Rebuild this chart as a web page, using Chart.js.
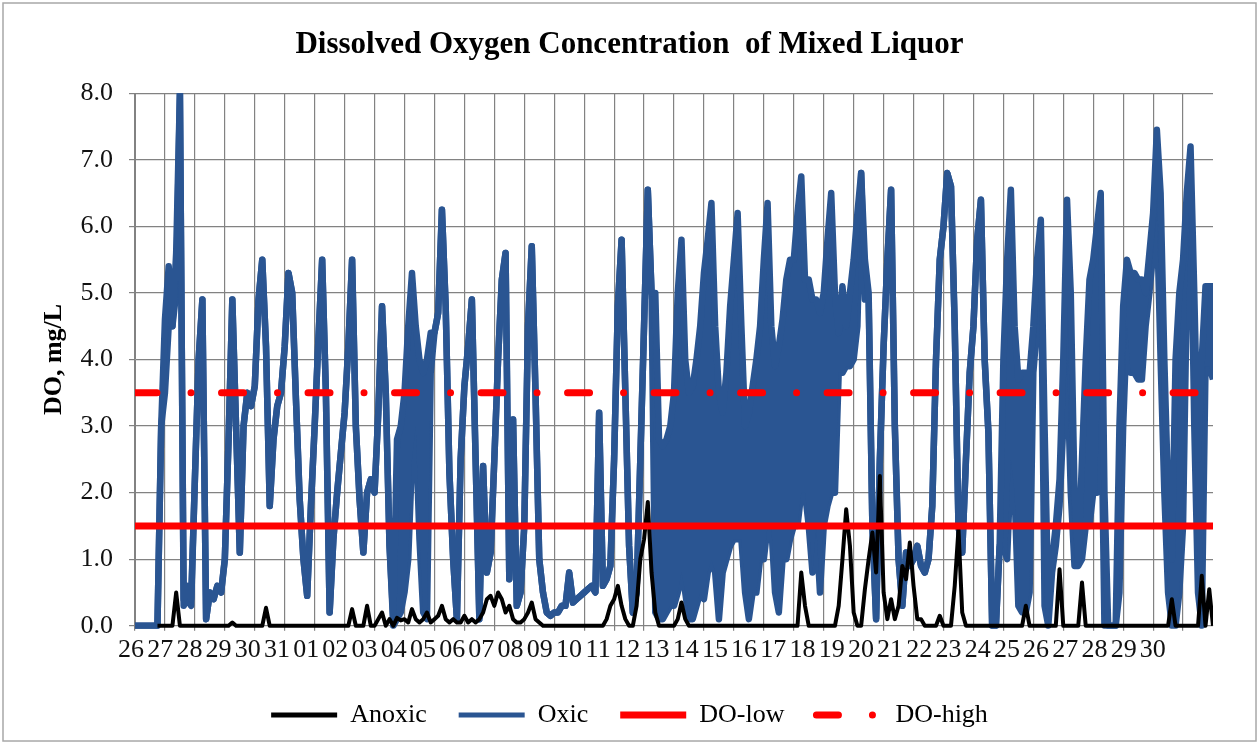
<!DOCTYPE html>
<html>
<head>
<meta charset="utf-8">
<title>Dissolved Oxygen Concentration of Mixed Liquor</title>
<script src="https://cdn.jsdelivr.net/npm/chart.js@4.4.1/dist/chart.umd.min.js"></script>
<style>
  body { margin: 0; background: #fff; }
</style>
</head>
<body>
<canvas id="grafica" width="1259" height="744"></canvas>
<script>
// etiquetas del eje x (un dia por division)
const etiquetasDias = ["26", "27", "28", "29", "30", "31", "01", "02", "03", "04", "05", "06",
  "07", "08", "09", "10", "11", "12", "13", "14", "15", "16", "17", "18",
  "19", "20", "21", "22", "23", "24", "25", "26", "27", "28", "29", "30"];

// un tramo cada 3 horas (8 por dia); para cada tramo el maximo y el minimo
// que se leen en la grafica (donde la linea es simple son iguales)
const pasoDias = 0.125;

const oxicoMax = [
  0, 0, 0, 0, 0, 0, 0, 3.0,               // 26
  4.6, 5.4, 4.5, 5.6, 8.0, 0.4, 0.6, 0.4, // 27
  2.2, 4.0, 4.9, 0.1, 0.5, 0.4, 0.6, 0.5, // 28
  1.0, 2.8, 4.9, 3.0, 1.1, 3.0, 3.5, 3.3, // 29
  3.6, 4.9, 5.5, 4.2, 1.8, 2.8, 3.3, 3.5, // 30
  4.2, 5.3, 5.0, 3.4, 1.9, 1.0, 0.45, 1.8, // 31
  3.0, 4.3, 5.5, 3.5, 0.2, 1.3, 2.0, 2.6, // 01
  3.2, 4.2, 5.5, 3.0, 1.9, 1.1, 2.0, 2.2, // 02
  2.0, 3.2, 4.8, 3.5, 1.2, 0.1, 2.8, 3.0, // 03
  3.5, 4.5, 5.3, 4.5, 4.0, 3.8, 4.0, 4.4, // 04
  4.4, 4.7, 6.25, 4.8, 2.3, 1.0, 0.1, 2.5, // 05
  3.6, 4.2, 4.9, 2.5, 0.1, 2.4, 0.8, 1.1, // 06
  2.5, 4.0, 5.2, 5.6, 0.7, 3.1, 0.3, 0.5, // 07
  1.5, 4.5, 5.7, 3.5, 1.0, 0.5, 0.2, 0.15, // 08
  0.2, 0.2, 0.3, 0.3, 0.8, 0.35, 0.4, 0.45, // 09
  0.5, 0.55, 0.6, 0.5, 3.2, 0.6, 0.7, 0.9, // 10
  2.5, 4.8, 5.8, 3.5, 1.2, 0.2, 0.5, 2.5, // 11
  4.5, 6.55, 5.0, 5.0, 2.8, 2.7, 2.8, 3.0, // 12
  3.5, 5.0, 5.8, 4.0, 3.5, 3.6, 4.0, 4.5, // 13
  5.3, 5.8, 6.35, 4.5, 3.5, 3.2, 3.8, 4.8, // 14
  5.5, 6.2, 4.5, 3.0, 3.2, 3.6, 4.0, 4.5, // 15
  5.5, 6.35, 4.5, 3.9, 4.2, 4.6, 5.2, 5.5, // 16
  5.5, 6.2, 6.75, 5.2, 5.2, 4.9, 4.9, 4.7, // 17
  5.0, 5.8, 6.5, 5.0, 4.4, 5.1, 4.5, 5.0, // 18
  5.5, 6.2, 6.8, 5.5, 5.0, 1.5, 0.1, 2.5, // 19
  4.2, 5.5, 6.55, 3.0, 1.0, 0.3, 1.1, 0.9, // 20
  1.0, 1.2, 0.9, 0.8, 1.0, 1.8, 4.0, 5.5, // 21
  6.0, 6.8, 6.6, 4.5, 1.5, 1.1, 2.5, 3.8, // 22
  4.5, 5.8, 6.4, 4.0, 2.9, 0.0, 0.0, 1.2, // 23
  4.0, 5.5, 6.55, 4.5, 3.7, 3.8, 3.8, 3.8, // 24
  4.5, 5.5, 6.1, 3.0, 0.3, 1.0, 1.5, 2.2, // 25
  4.0, 6.4, 5.0, 2.0, 1.0, 2.5, 4.0, 5.2, // 26
  5.5, 6.0, 6.5, 2.0, 0.0, 0.0, 0.0, 3.0, // 27
  4.8, 5.5, 5.3, 5.3, 5.2, 5.2, 5.0, 5.6, // 28
  6.2, 7.45, 6.5, 4.0, 2.0, 1.0, 4.0, 5.0, // 29
  5.5, 6.5, 7.2, 5.0, 2.5, 4.0, 5.1, 5.1, // 30
  5.1
];

const oxicoMin = [
  0, 0, 0, 0, 0, 0, 0, 3.0,               // 26
  3.5, 4.5, 4.5, 5.0, 8.0, 0.3, 0.4, 0.3, // 27
  2.2, 4.0, 4.9, 0.1, 0.5, 0.4, 0.6, 0.5, // 28
  1.0, 2.8, 4.9, 3.0, 1.1, 3.0, 3.5, 3.3, // 29
  3.6, 4.9, 5.5, 4.2, 1.8, 2.8, 3.3, 3.5, // 30
  4.2, 5.3, 5.0, 3.4, 1.9, 1.0, 0.45, 1.8, // 31
  3.0, 4.3, 5.5, 3.5, 0.2, 1.3, 2.0, 2.6, // 01
  3.2, 4.2, 5.5, 3.0, 1.9, 1.1, 2.0, 2.2, // 02
  2.0, 3.2, 4.8, 3.5, 1.2, 0.0, 0.1, 0.2, // 03
  0.5, 1.0, 2.5, 3.0, 1.3, 0.2, 0.1, 3.8, // 04
  4.4, 4.7, 6.25, 4.8, 2.3, 1.0, 0.1, 2.5, // 05
  3.6, 4.2, 4.9, 2.5, 0.1, 2.4, 0.8, 1.1, // 06
  2.5, 4.0, 5.2, 5.6, 0.7, 3.1, 0.3, 0.5, // 07
  1.5, 4.5, 5.7, 3.5, 1.0, 0.5, 0.2, 0.15, // 08
  0.2, 0.2, 0.3, 0.3, 0.8, 0.35, 0.4, 0.45, // 09
  0.5, 0.55, 0.6, 0.5, 3.2, 0.6, 0.7, 0.9, // 10
  2.5, 4.8, 5.8, 3.5, 1.2, 0.2, 0.5, 2.5, // 11
  4.5, 6.55, 5.0, 0.2, 0.1, 0.1, 0.2, 0.3, // 12
  0.3, 0.5, 0.8, 0.5, 0.1, 0.1, 0.3, 0.5, // 13
  0.4, 0.8, 1.0, 0.8, 0.1, 0.8, 1.0, 1.2, // 14
  1.3, 1.3, 1.3, 0.5, 0.1, 0.5, 0.5, 1.0, // 15
  1.0, 1.5, 1.5, 0.5, 0.2, 1.0, 1.0, 1.3, // 16
  1.5, 1.5, 2.0, 2.0, 1.5, 0.8, 1.5, 0.5, // 17
  1.5, 1.8, 2.0, 2.0, 3.8, 3.8, 3.9, 3.9, // 18
  4.0, 4.5, 6.8, 4.9, 4.9, 1.5, 0.1, 2.5, // 19
  4.2, 5.5, 6.55, 3.0, 1.0, 0.3, 1.1, 0.9, // 20
  1.0, 1.2, 0.9, 0.8, 1.0, 1.8, 4.0, 5.5, // 21
  6.0, 6.8, 6.6, 4.5, 1.5, 1.1, 2.5, 3.8, // 22
  4.5, 5.8, 6.4, 4.0, 2.9, 0.0, 0.0, 1.2, // 23
  1.2, 1.0, 2.5, 2.0, 0.3, 0.2, 0.2, 0.5, // 24
  3.8, 4.5, 5.8, 0.3, 0.0, 0.8, 1.2, 1.8, // 25
  3.0, 4.0, 2.0, 0.9, 0.9, 1.0, 1.5, 1.5, // 26
  2.0, 2.0, 4.0, 0.0, 0.0, 0.0, 0.0, 0.5, // 27
  3.0, 4.5, 3.8, 3.8, 3.7, 3.7, 4.5, 5.0, // 28
  5.6, 6.2, 4.0, 2.0, 0.5, 0.0, 0.0, 0.5, // 29
  1.5, 5.0, 6.5, 3.0, 0.5, 0.0, 3.9, 3.9, // 30
  3.7
];

const anoxico = [
  null, null, null, null, null, null, 0, 0, // 26
  0, 0, 0, 0.5, 0, 0, 0, 0,             // 27
  0, 0, 0, 0, 0, 0, 0, 0,               // 28
  0, 0, 0.05, 0, 0, 0, 0, 0,            // 29
  0, 0, 0, 0.27, 0, 0, 0, 0,            // 30
  0, 0, 0, 0, 0, 0, 0, 0,               // 31
  0, 0, 0, 0, 0, 0, 0, 0,               // 01
  0, 0, 0.25, 0, 0, 0, 0.3, 0,          // 02
  0, 0.1, 0.2, 0, 0.1, 0, 0.12, 0.08,   // 03
  0.1, 0.05, 0.25, 0.1, 0.05, 0.1, 0.2, 0.05, // 04
  0.1, 0.15, 0.3, 0.1, 0.05, 0.1, 0.05, 0.05, // 05
  0.15, 0.05, 0.1, 0.05, 0.1, 0.2, 0.4, 0.45, // 06
  0.3, 0.5, 0.4, 0.2, 0.3, 0.1, 0.05, 0.05,   // 07
  0.1, 0.2, 0.35, 0.1, 0.05, 0, 0, 0,   // 08
  0, 0, 0, 0, 0, 0, 0, 0,               // 09
  0, 0, 0, 0, 0, 0, 0.1, 0.3,           // 10
  0.4, 0.6, 0.3, 0.1, 0, 0, 0.3, 1.0,   // 11
  1.3, 1.86, 0.8, 0.2, 0, 0, 0, 0,      // 12
  0, 0.1, 0.35, 0.1, 0, 0, 0, 0,        // 13
  0, 0, 0, 0, 0, 0, 0, 0,               // 14
  0, 0, 0, 0, 0, 0, 0, 0,               // 15
  0, 0, 0, 0, 0, 0, 0, 0,               // 16
  0, 0, 0.8, 0.3, 0, 0, 0, 0,           // 17
  0, 0, 0, 0, 0.3, 1.0, 1.75, 1.2,      // 18
  0.2, 0, 0, 0.55, 1.0, 1.4, 0.8, 2.25, // 19
  0.5, 0.1, 0.4, 0.1, 0.3, 0.9, 0.7, 1.25, // 20
  0.6, 0.1, 0.1, 0, 0, 0, 0, 0.15,      // 21
  0, 0, 0, 0.6, 1.45, 0.2, 0, 0,        // 22
  0, 0, 0, 0, 0, 0, 0, 0,               // 23
  0, 0, 0, 0, 0, 0, 0.3, 0,             // 24
  0, 0, 0, 0, 0, 0, 0, 0.85,            // 25
  0, 0, 0, 0, 0, 0.65, 0, 0,            // 26
  0, 0, 0, 0, 0, 0, 0, 0,               // 27
  0, 0, 0, 0, 0, 0, 0, 0,               // 28
  0, 0, 0, 0, 0, 0.4, 0, 0,             // 29
  0, 0, 0, 0, 0, 0.75, 0, 0.55,         // 30
  0
];

// lineas de referencia
const diasLimite = [0, 36];
const doBajo = [1.5, 1.5];
const doAlto = [3.5, 3.5];

const fuente = "'Liberation Serif', 'Times New Roman', serif";
const colorGrilla = "#828282";
const azul = "#2a5592";
const rojo = "#ff0000";
const guionPunto = [22, 34, 0.01, 30.5];

function aPuntos(valores) {
  return valores.map((v, i) => ({ x: i * pasoDias, y: v }));
}

function aLimite(valores) {
  return diasLimite.map((d, i) => ({ x: d, y: valores[i] }));
}

// fondo blanco y marco gris
const fondo = {
  id: "fondo",
  beforeDraw(chart) {
    const ctx = chart.ctx;
    ctx.save();
    ctx.fillStyle = "#fff";
    ctx.fillRect(0, 0, chart.width, chart.height);
    ctx.strokeStyle = "#a8a8a8";
    ctx.lineWidth = 1.5;
    ctx.strokeRect(3, 3, chart.width - 6, chart.height - 6);
    ctx.restore();
  },
};

const recorte = { left: 0, top: 0, right: 0, bottom: 3 };

const config = {
  type: "line",
  data: {
    datasets: [
      {
        label: "DO-low",
        data: aLimite(doBajo),
        borderColor: rojo,
        borderWidth: 7,
        pointRadius: 0,
        order: 0,
      },
      {
        label: "DO-high",
        data: aLimite(doAlto),
        borderColor: rojo,
        borderWidth: 7,
        borderDash: guionPunto,
        borderCapStyle: "round",
        pointRadius: 0,
        order: 1,
      },
      {
        label: "Anoxic",
        data: aPuntos(anoxico),
        borderColor: "#000",
        borderWidth: 4,
        borderJoinStyle: "round",
        pointRadius: 0,
        spanGaps: false,
        clip: recorte,
        order: 2,
      },
      {
        label: "Oxic",
        data: aPuntos(oxicoMax),
        borderColor: azul,
        backgroundColor: azul,
        borderWidth: 6.5,
        borderJoinStyle: "round",
        pointRadius: 0,
        fill: "+1",
        clip: recorte,
        order: 3,
      },
      {
        label: "Oxic min",
        data: aPuntos(oxicoMin),
        borderColor: azul,
        borderWidth: 6.5,
        borderJoinStyle: "round",
        pointRadius: 0,
        clip: recorte,
        order: 4,
      },
    ],
  },
  options: {
    responsive: false,
    animation: false,
    devicePixelRatio: 1,
    events: [],
    layout: { padding: { left: 23, right: 23, top: 0, bottom: 6 } },
    scales: {
      x: {
        type: "linear",
        position: "bottom",
        min: 0,
        max: 36,
        weight: 0,
        ticks: { display: false, stepSize: 1 },
        grid: {
          color: (ctx) => (ctx.tick && ctx.tick.value === 36 ? "rgba(0,0,0,0)" : colorGrilla),
          tickLength: 5,
          lineWidth: 1.2,
        },
        border: { color: colorGrilla },
        afterFit: (escala) => { escala.height = 5; },
      },
      xEtiquetas: {
        type: "linear",
        position: "bottom",
        min: 0.137,
        max: 37.06,
        weight: 1,
        grid: { display: false, drawTicks: false },
        border: { display: false },
        afterBuildTicks: (escala) => {
          escala.ticks = etiquetasDias.map((_, i) => ({ value: i }));
        },
        ticks: {
          autoSkip: false,
          maxRotation: 0,
          padding: 4,
          color: "#111",
          font: { family: fuente, size: 26 },
          callback: (v) => etiquetasDias[v] || "",
        },
      },
      y: {
        min: 0,
        max: 8,
        ticks: {
          stepSize: 1,
          padding: 16,
          color: "#111",
          font: { family: fuente, size: 26 },
          callback: (v) => v.toFixed(1),
        },
        grid: { color: colorGrilla, tickLength: 6, lineWidth: 1.2 },
        border: { color: colorGrilla },
        title: {
          display: true,
          text: "DO, mg/L",
          color: "#000",
          font: { family: fuente, size: 26, weight: "bold" },
          padding: { top: 16, bottom: 0 },
        },
        afterFit: (escala) => { escala.width = 112; },
      },
      yDerecha: {
        position: "right",
        min: 0,
        max: 8,
        grid: { display: false, drawTicks: false },
        border: { display: false },
        ticks: { display: false },
        afterFit: (escala) => { escala.width = 23; },
      },
    },
    plugins: {
      tooltip: { enabled: false },
      title: {
        display: true,
        text: "Dissolved Oxygen Concentration  of Mixed Liquor",
        color: "#000",
        font: { family: fuente, size: 31, weight: "bold" },
        padding: { top: 26, bottom: 30 },
      },
      legend: {
        position: "bottom",
        labels: {
          usePointStyle: true,
          pointStyleWidth: 66,
          padding: 32,
          color: "#000",
          font: { family: fuente, size: 26 },
          generateLabels: () => [
            { text: "Anoxic", strokeStyle: "#000", fillStyle: "#000", lineWidth: 5, pointStyle: "line", rotation: 180, lineCap: "butt", hidden: false, datasetIndex: 2 },
            { text: "Oxic", strokeStyle: azul, fillStyle: azul, lineWidth: 5, pointStyle: "line", rotation: 180, lineCap: "butt", hidden: false, datasetIndex: 3 },
            { text: "DO-low", strokeStyle: rojo, fillStyle: rojo, lineWidth: 7, pointStyle: "line", rotation: 180, lineCap: "butt", hidden: false, datasetIndex: 0 },
            { text: "DO-high", strokeStyle: rojo, fillStyle: rojo, lineWidth: 7, pointStyle: "line", rotation: 180, lineCap: "round", lineDash: guionPunto, hidden: false, datasetIndex: 1 },
          ],
        },
      },
    },
  },
  plugins: [fondo],
};

const chartDOM = document.getElementById("grafica");
window.chartInstance = new Chart(chartDOM, config);
</script>
</body>
</html>
